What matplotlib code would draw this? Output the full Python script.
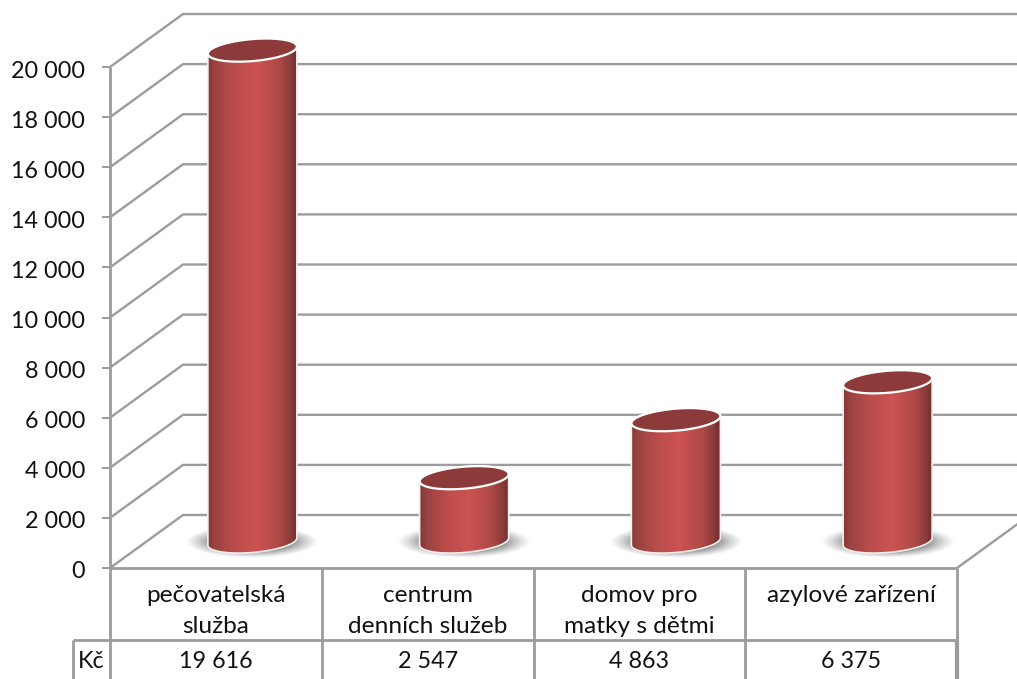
import numpy as np
import matplotlib
matplotlib.use("Agg")
import matplotlib.pyplot as plt
from matplotlib.patches import Polygon
from matplotlib.colors import LinearSegmentedColormap
from matplotlib.transforms import ScaledTranslation

categories = ["pečovatelská\nslužba", "centrum\ndenních služeb", "domov pro\nmatky s dětmi", "azylové zařízení"]
values = [19616, 2547, 4863, 6375]
y_ticks = [0, 2000, 4000, 6000, 8000, 10000, 12000, 14000, 16000, 18000, 20000]
row_label = "Kč"

W, H = 1017, 679
LEFT, RIGHT, BOTTOM, TOP = 110, 957, 568, 67
GRID = "#9c9c9c"
FONT = "Lato"
FS = 16.8
FS_CAT = 17.6
plt.rcParams["font.family"] = [FONT, "DejaVu Sans"]

fig = plt.figure(figsize=(W / 100, H / 100), dpi=100, facecolor="white")
ax = fig.add_axes([LEFT / W, 1 - BOTTOM / H, (RIGHT - LEFT) / W, (BOTTOM - TOP) / H])
ax.patch.set_visible(False)
n = len(categories)
px_x = n / (RIGHT - LEFT)               # data units per pixel, x
px_y = 20000 / (BOTTOM - TOP)           # data units per pixel, y
DX, DY = 73 * px_x, 53 * px_y           # depth offset of the 3-D box
lw_grid = 1.7

def line(xs, ys, **kw):
    kw.setdefault("color", GRID)
    kw.setdefault("lw", lw_grid)
    ax.plot(xs, ys, clip_on=False, solid_capstyle="butt", zorder=kw.pop("z", 1), **kw)

# walls
for v in y_ticks:
    line([0, DX, n + DX], [v, v + DY, v + DY])
line([n, n + DX], [0, DY])

# category table
T_ROW = -(640 - BOTTOM) * px_y
T_END = -(H - BOTTOM) * px_y
T_LEFT = (73 - LEFT) * px_x
line([0, n], [0, 0], lw=2)
line([T_LEFT, n], [T_ROW, T_ROW], lw=2)
line([0, 0], [T_END, 20000], lw=2)
line([T_LEFT, T_LEFT], [T_END, T_ROW], lw=2)
for i in range(1, n + 1):
    line([i, i], [T_END, 0], lw=2)
line([n, n], [T_END, T_ROW], lw=3)

cmap = LinearSegmentedColormap.from_list("cyl", [
    (0.0, "#813736"), (0.08, "#9a4342"), (0.30, "#bb4d4c"), (0.55, "#cb5351"),
    (0.80, "#b04948"), (0.93, "#8a3c3b"), (1.0, "#702f2e")])
grad = np.linspace(0, 1, 256).reshape(1, -1)
A, B, S = 44.5 * px_x, 11 * px_y, 3.6 * px_y  # ellipse half axes and tilt
t = np.linspace(0, 2 * np.pi, 121)

# soft floor shadow
gx, gy = np.meshgrid(np.linspace(-1, 1, 220), np.linspace(-1, 1, 80))
r = np.hypot(gx, gy)
shadow = np.zeros(r.shape + (4,))
shadow[..., :3] = 0.38
shadow[..., 3] = 0.9 * np.clip((1 - r) / 0.5, 0, 1) ** 1.2

for i, v in enumerate(values):
    cx = i + 0.5 + DX / 2
    base = DY / 2
    top = base + v
    ex, ey = A * np.cos(t), B * np.sin(t) + S * np.cos(t)
    # shadow
    sa, sb = 67 * px_x, 16 * px_y
    im = ax.imshow(shadow, extent=(cx - sa, cx + sa, base - sb, base + sb), aspect="auto",
                   origin="lower", zorder=2, interpolation="bilinear")
    im.set_clip_box(fig.bbox)
    # body outline: front half of the bottom ellipse, back half of the top one
    lower = t[:61] + np.pi           # runs along the lower half (screen)
    bx, by = cx + A * np.cos(lower), base + B * np.sin(lower) + S * np.cos(lower)
    upper = t[:61]
    ux, uy = cx + A * np.cos(upper), top + B * np.sin(upper) + S * np.cos(upper)
    body = Polygon(np.column_stack([np.r_[bx, ux], np.r_[by, uy]]), closed=True, fc="none",
                   ec="none", transform=ax.transData, zorder=3, clip_on=False)
    ax.add_patch(body)
    im2 = ax.imshow(grad, extent=(cx - A, cx + A, base - 2 * B, top + 2 * B), aspect="auto",
                    cmap=cmap, zorder=3, interpolation="bilinear")
    im2.set_clip_box(fig.bbox)
    im2.set_clip_path(body)
    ax.add_patch(Polygon(np.column_stack([np.r_[bx, ux], np.r_[by, uy]]), closed=True, fc="none",
                         ec="#f4eeee", lw=1.2, zorder=4, clip_on=False))
    ax.add_patch(Polygon(np.column_stack([cx + ex, top + ey]), closed=True, fc="#8c3a3a",
                         ec="white", lw=1.6, zorder=5, clip_on=False))

ax.set_xlim(0, n)
ax.set_ylim(0, 20000)
for s in ax.spines.values():
    s.set_visible(False)
ax.set_yticks(y_ticks)
ax.set_yticklabels([f"{v:,}".replace(",", " ") for v in y_ticks], fontsize=FS, color="#111111")
ax.tick_params(axis="y", length=5.8, width=1.4, color=GRID, pad=12)
down = ScaledTranslation(0, -2 / 100, fig.dpi_scale_trans)
for lbl in ax.get_yticklabels():
    lbl.set_transform(lbl.get_transform() + down)
ax.set_xticks(np.arange(n) + 0.5)
ax.set_xticklabels(categories, fontsize=FS_CAT, color="#111111", linespacing=1.6)
ax.tick_params(axis="x", length=0, pad=12)

mid = (T_ROW + T_END) / 2 - 2 * px_y
for i, v in enumerate(values):
    ax.text(i + 0.5, mid, f"{v:,}".replace(",", " "), ha="center", va="center",
            fontsize=FS, color="#111111", clip_on=False)
ax.text(T_LEFT / 2, mid, row_label, ha="center", va="center", fontsize=FS, color="#111111", clip_on=False)

fig.savefig("out.png", dpi=100)
